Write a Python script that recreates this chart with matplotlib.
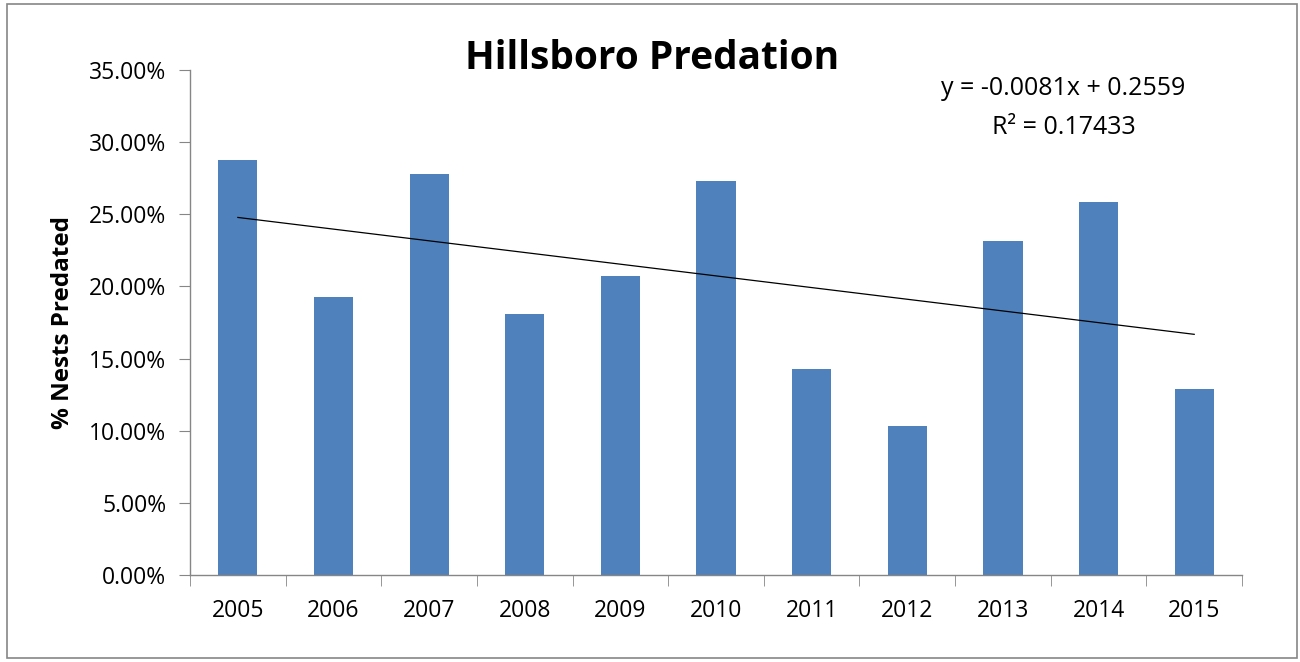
import matplotlib
matplotlib.use("Agg")
import matplotlib.pyplot as plt
from matplotlib.patches import Rectangle
from matplotlib.ticker import FuncFormatter, MultipleLocator, FixedLocator
import numpy as np

years = ["2005", "2006", "2007", "2008", "2009", "2010",
         "2011", "2012", "2013", "2014", "2015"]
predated = [0.2876, 0.1927, 0.2779, 0.1809, 0.2072, 0.2731,
            0.1428, 0.1033, 0.2315, 0.2585, 0.1289]
trend_slope = -0.0081
trend_intercept = 0.2559
r_squared = 0.17433

plt.rcParams["font.family"] = ["Open Sans", "DejaVu Sans"]

fig = plt.figure(figsize=(13, 6.62), dpi=100)
ax = fig.add_axes([0.1462, 0.1314, 0.8092, 0.7629])

x = np.arange(1, len(years) + 1)
ax.bar(x, predated, width=0.41, color="#4F81BD", zorder=2)

# linear trendline from the stated equation
tx = np.array([x[0], x[-1]])
ax.plot(tx, trend_slope * tx + trend_intercept, color="black", lw=0.9, zorder=3)

ax.set_xlim(0.5, len(years) + 0.5)
ax.set_ylim(0, 0.35)
ax.yaxis.set_major_locator(MultipleLocator(0.05))
ax.yaxis.set_major_formatter(FuncFormatter(lambda v, p: f"{v*100:.2f}%"))
ax.set_xticks(x)
ax.set_xticklabels(years)
ax.xaxis.set_minor_locator(FixedLocator(np.arange(0.5, len(years) + 1, 1.0)))
ax.tick_params(axis="x", which="major", length=0, pad=17, labelsize=16.5)
ax.tick_params(axis="x", which="minor", length=8, color="#868686", direction="out")
ax.tick_params(axis="y", length=8, color="#868686", direction="out", labelsize=16.5, pad=9)

for side in ("top", "right"):
    ax.spines[side].set_visible(False)
for side in ("left", "bottom"):
    ax.spines[side].set_color("#868686")
    ax.spines[side].set_linewidth(1.0)

ax.set_ylabel("% Nests Predated", fontsize=17.5, fontweight="bold", labelpad=10)

fig.text(0.5015, 0.911, "Hillsboro Predation", ha="center", va="center",
         fontsize=28, fontweight="bold")
fig.text(0.818, 0.867, f"y = {trend_slope}x + {trend_intercept}", ha="center",
         va="center", fontsize=18)
fig.text(0.818, 0.808, f"R² = {r_squared}", ha="center", va="center", fontsize=18)

fig.add_artist(Rectangle((0.0054, 0.006), 0.9923, 0.988, transform=fig.transFigure,
                         fill=False, edgecolor="#868686", lw=1.2))

fig.savefig("out.png", dpi=100)
